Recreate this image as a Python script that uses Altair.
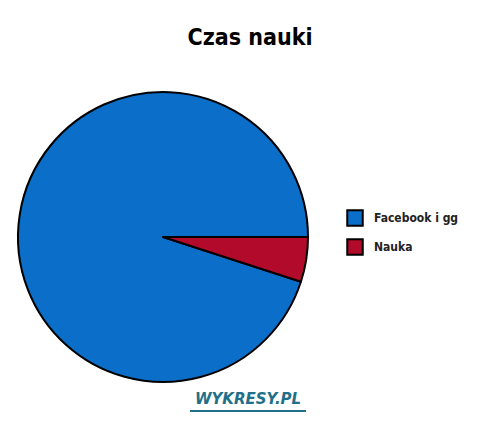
import altair as alt
import pandas as pd
import math

categories = ["Facebook i gg", "Nauka"]
values = [95, 5]
colors = ["#0b6ec8", "#b10a2b"]
draw_order = [2, 1]  # Nauka drawn first, starting at 3 o'clock

df = pd.DataFrame({"kategoria": categories, "czas": values, "kolejnosc": draw_order})

PAD_TOP = 50
W, H = 484, 361
CX, CY = 155, 237 - 8 - PAD_TOP
FONT = "DejaVu Sans Condensed, Liberation Sans, sans-serif"

pie = alt.Chart(df).mark_arc(outerRadius=145, stroke="black", strokeWidth=2, strokeJoin="round").encode(
    theta=alt.Theta("czas:Q", stack=True, scale=alt.Scale(range=[math.pi / 2, math.pi / 2 + 2 * math.pi])),
    order=alt.Order("kolejnosc:Q"),
    color=alt.Color(
        "kategoria:N",
        scale=alt.Scale(domain=categories, range=colors),
        legend=alt.Legend(
            title=None,
            orient="none",
            legendX=338,
            legendY=151,
            symbolType="square",
            symbolSize=240,
            symbolStrokeColor="black",
            symbolStrokeWidth=2,
            symbolOpacity=1,
            labelFont=FONT,
            labelFontSize=12,
            labelFontWeight="bold",
            labelColor="#222222",
            rowPadding=5,
            labelOffset=10,
        ),
    ),
    x=alt.value(CX),
    y=alt.value(CY),
)

wm_df = pd.DataFrame({"t": ["WYKRESY.PL"]})
watermark = alt.Chart(wm_df).mark_text(
    font="DejaVu Sans", fontSize=15, fontStyle="italic", fontWeight="bold",
    color="#1f7088", align="center", baseline="middle",
).encode(text="t:N", x=alt.value(240), y=alt.value(399 - 8 - PAD_TOP))

underline = alt.Chart(wm_df).mark_rule(color="#1f7088", strokeWidth=2).encode(
    x=alt.value(182), x2=alt.value(298), y=alt.value(411 - 8 - PAD_TOP)
)

chart = alt.layer(pie, watermark, underline).properties(
    width=W,
    height=H,
    background="white",
    padding={"top": PAD_TOP, "left": 0, "right": 0, "bottom": 0},
    autosize=alt.AutoSizeParams(type="none"),
    title=alt.Title(
        "Czas nauki",
        font=FONT,
        fontSize=23,
        fontWeight="bold",
        color="black",
        anchor="middle",
        offset=8,
    ),
).configure_view(strokeWidth=0, stroke="white")

chart.save("out.html", embed_options={"renderer": "svg", "actions": False})
